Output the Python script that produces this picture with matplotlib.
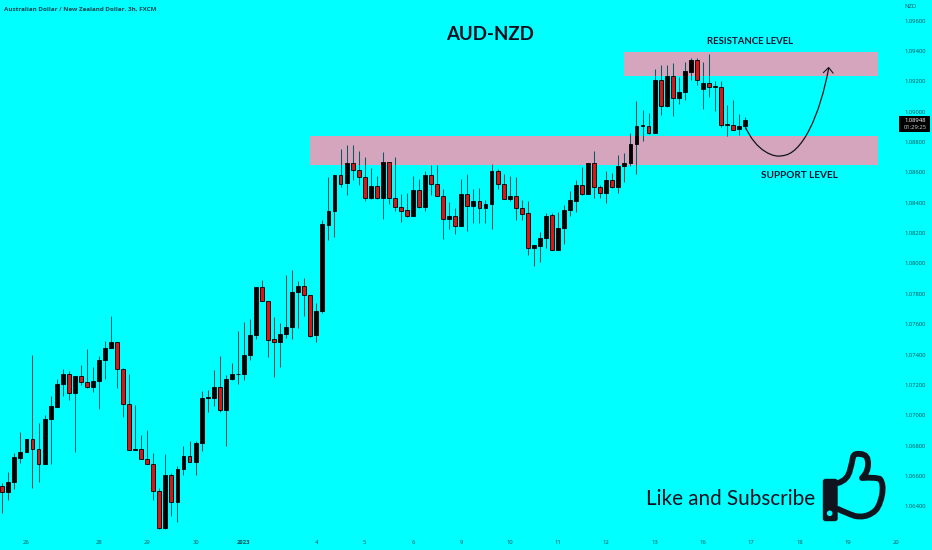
import matplotlib
matplotlib.use("Agg")
import matplotlib.pyplot as plt
import matplotlib.patches as patches
from matplotlib.path import Path
import numpy as np

plt.rcParams['font.family'] = ['Open Sans', 'DejaVu Sans']

# prix, une bougie 3h par colonne
opens = [1.06538, 1.06494, 1.06560, 1.06722, 1.06757, 1.06843, 1.06779, 1.06678, 1.06975, 1.07058,
         1.07205, 1.07275, 1.07146, 1.07260, 1.07220, 1.07190, 1.07227, 1.07365, 1.07444, 1.07482,
         1.07302, 1.07078, 1.06775, 1.06779, 1.06713, 1.06678, 1.06501, 1.06257, 1.06606, 1.06428,
         1.06645, 1.06735, 1.06696, 1.06821, 1.07113, 1.07117, 1.07187, 1.07034, 1.07238, 1.07271,
         1.07275, 1.07398, 1.07531, 1.07843, 1.07751, 1.07501, 1.07485, 1.07536, 1.07582, 1.07810,
         1.07852, 1.07790, 1.07527, 1.07685, 1.08256, 1.08346, 1.08583, 1.08528, 1.08662, 1.08616,
         1.08572, 1.08431, 1.08510, 1.08429, 1.08666, 1.08429, 1.08374, 1.08350, 1.08315, 1.08484,
         1.08374, 1.08583, 1.08521, 1.08444, 1.08293, 1.08311, 1.08245, 1.08460, 1.08376, 1.08409,
         1.08363, 1.08392, 1.08611, 1.08526, 1.08423, 1.08444, 1.08363, 1.08330, 1.08102, 1.08118,
         1.08170, 1.08317, 1.08091, 1.08234, 1.08350, 1.08411, 1.08515, 1.08460, 1.08662, 1.08506,
         1.08464, 1.08550, 1.08504, 1.08642, 1.08660, 1.08785, 1.08908, 1.08908, 1.08858, 1.09211,
         1.09038, 1.09233, 1.09088, 1.09130, 1.09264, 1.09343, 1.09152, 1.09187, 1.09165, 1.09163,
         1.08910, 1.08910, 1.08888, 1.08908]
closes = [1.06494, 1.06562, 1.06727, 1.06760, 1.06843, 1.06779, 1.06678, 1.06975, 1.07060, 1.07207,
          1.07275, 1.07146, 1.07260, 1.07220, 1.07190, 1.07227, 1.07367, 1.07444, 1.07482, 1.07302,
          1.07078, 1.06775, 1.06779, 1.06713, 1.06678, 1.06501, 1.06257, 1.06606, 1.06428, 1.06645,
          1.06735, 1.06696, 1.06821, 1.07115, 1.07119, 1.07187, 1.07034, 1.07238, 1.07271, 1.07275,
          1.07398, 1.07531, 1.07843, 1.07751, 1.07499, 1.07485, 1.07536, 1.07582, 1.07810, 1.07852,
          1.07790, 1.07525, 1.07685, 1.08258, 1.08346, 1.08585, 1.08526, 1.08662, 1.08616, 1.08572,
          1.08431, 1.08510, 1.08429, 1.08666, 1.08429, 1.08374, 1.08348, 1.08315, 1.08484, 1.08372,
          1.08585, 1.08521, 1.08442, 1.08293, 1.08311, 1.08245, 1.08460, 1.08376, 1.08409, 1.08363,
          1.08392, 1.08611, 1.08526, 1.08423, 1.08444, 1.08363, 1.08328, 1.08102, 1.08120, 1.08170,
          1.08315, 1.08091, 1.08234, 1.08352, 1.08416, 1.08515, 1.08460, 1.08662, 1.08506, 1.08464,
          1.08550, 1.08506, 1.08642, 1.08662, 1.08787, 1.08908, 1.08913, 1.08858, 1.09211, 1.09038,
          1.09233, 1.09088, 1.09130, 1.09266, 1.09343, 1.09211, 1.09187, 1.09165, 1.09167, 1.08913,
          1.08917, 1.08882, 1.08908, 1.08948]
highs = [1.06553, 1.06626, 1.06755, 1.06893, 1.06843, 1.07400, 1.06948, 1.07003, 1.07128, 1.07238,
         1.07304, 1.07295, 1.07260, 1.07330, 1.07436, 1.07317, 1.07389, 1.07490, 1.07655, 1.07482,
         1.07310, 1.07273, 1.07069, 1.06871, 1.06904, 1.06749, 1.06520, 1.06746, 1.06623, 1.06667,
         1.06795, 1.06832, 1.06834, 1.07163, 1.07168, 1.07299, 1.07392, 1.07269, 1.07348, 1.07554,
         1.07615, 1.07635, 1.07843, 1.07891, 1.07751, 1.07650, 1.07606, 1.07924, 1.07957, 1.07887,
         1.07902, 1.07790, 1.07738, 1.08286, 1.08567, 1.08585, 1.08754, 1.08782, 1.08782, 1.08743,
         1.08699, 1.08629, 1.08576, 1.08734, 1.08671, 1.08699, 1.08458, 1.08466, 1.08576, 1.08559,
         1.08611, 1.08649, 1.08649, 1.08488, 1.08405, 1.08363, 1.08556, 1.08589, 1.08488, 1.08497,
         1.08418, 1.08655, 1.08620, 1.08589, 1.08576, 1.08572, 1.08418, 1.08414, 1.08120, 1.08210,
         1.08330, 1.08330, 1.08339, 1.08385, 1.08475, 1.08550, 1.08638, 1.08662, 1.08743, 1.08517,
         1.08611, 1.08594, 1.08714, 1.08725, 1.08861, 1.09071, 1.09011, 1.08994, 1.09279, 1.09305,
         1.09305, 1.09323, 1.09231, 1.09330, 1.09356, 1.09351, 1.09327, 1.09378, 1.09200, 1.09204,
         1.09044, 1.09077, 1.08983, 1.08963]
lows = [1.06356, 1.06443, 1.06514, 1.06689, 1.06757, 1.06525, 1.06564, 1.06678, 1.06683, 1.07058,
        1.07130, 1.07098, 1.06762, 1.07198, 1.07181, 1.07152, 1.07043, 1.07242, 1.07444, 1.07177,
        1.06986, 1.06775, 1.06775, 1.06713, 1.06678, 1.06443, 1.06250, 1.06250, 1.06340, 1.06301,
        1.06606, 1.06696, 1.06608, 1.06768, 1.07019, 1.07060, 1.07019, 1.06797, 1.07234, 1.07205,
        1.07233, 1.07365, 1.07500, 1.07751, 1.07387, 1.07253, 1.07321, 1.07507, 1.07501, 1.07575,
        1.07654, 1.07518, 1.07481, 1.07672, 1.08155, 1.08177, 1.08502, 1.08453, 1.08550, 1.08517,
        1.08414, 1.08425, 1.08423, 1.08291, 1.08392, 1.08348, 1.08271, 1.08308, 1.08315, 1.08365,
        1.08346, 1.08451, 1.08442, 1.08159, 1.08229, 1.08194, 1.08245, 1.08216, 1.08264, 1.08264,
        1.08264, 1.08227, 1.08488, 1.08423, 1.08412, 1.08286, 1.08286, 1.08056, 1.07984, 1.08012,
        1.08100, 1.08091, 1.08091, 1.08128, 1.08313, 1.08341, 1.08451, 1.08460, 1.08433, 1.08429,
        1.08401, 1.08495, 1.08462, 1.08539, 1.08642, 1.08590, 1.08809, 1.08853, 1.08858, 1.08981,
        1.09029, 1.08972, 1.09051, 1.09077, 1.09209, 1.09176, 1.09016, 1.09095, 1.09007, 1.08897,
        1.08840, 1.08880, 1.08847, 1.08888]

price_ticks = [1.096, 1.094, 1.092, 1.090, 1.088, 1.086, 1.084, 1.082, 1.080, 1.078, 1.076,
               1.074, 1.072, 1.070, 1.068, 1.066, 1.064]
date_bars = [4, 16, 24, 32, 40, 52, 60, 68, 76, 84, 92, 100, 108, 116, 124, 132, 140, 148]
date_labels = ['26', '28', '29', '30', '2023', '4', '5', '6', '9', '10', '11', '12', '13',
               '16', '17', '18', '19', '20']

support_zone = (1.08649, 1.08840, 50.9)
resistance_zone = (1.09237, 1.09393, 102.9)
zone_end = 145.0
last_price = '1.08948'
countdown = '01:29:25'

BG = '#00FFFF'
ZONE = '#D4A5BC'
RED = '#DC1414'
TXT = '#07525A'

W, H = 932, 550
fig = plt.figure(figsize=(W / 100, H / 100), dpi=100, facecolor=BG)
ax = fig.add_axes([0, (H - 532) / H, 902 / W, 532 / H], facecolor=BG)

x = np.arange(len(opens))
o, c, hi, lo = map(np.array, (opens, closes, highs, lows))
up = c >= o
colors = np.where(up, '#000000', RED)

for low_p, high_p, start in (support_zone, resistance_zone):
    ax.add_patch(patches.Rectangle((start, low_p), zone_end - start, high_p - low_p,
                                   facecolor=ZONE, edgecolor='none', zorder=1))

ax.vlines(x, lo, hi, color='#0A5A62', lw=0.75, zorder=2)
ax.bar(x, np.maximum(np.abs(c - o), 0.00003), bottom=np.minimum(o, c), width=0.64,
       color=colors, edgecolor='black', linewidth=0.6, zorder=3)

ax.set_xlim(-0.38, 148.96)
ax.set_ylim(1.06232, 1.09735)
ax.set_xticks(date_bars)
ax.set_xticklabels(date_labels)
ax.set_yticks(price_ticks)
ax.set_yticklabels(['%.5f' % p for p in price_ticks])
ax.yaxis.tick_right()
ax.tick_params(axis='both', length=0, labelsize=4.2, labelcolor=TXT)
ax.tick_params(axis='x', pad=6)
ax.tick_params(axis='y', pad=2)
for t, lab in zip(ax.get_xticklabels(), date_labels):
    if lab == '2023':
        t.set_fontweight('bold')
for s in ax.spines.values():
    s.set_visible(False)

# calque en pixels pour les annotations dessinées à la main
ov = fig.add_axes([0, 0, 1, 1], facecolor='none')
ov.set_xlim(0, W)
ov.set_ylim(H, 0)
ov.axis('off')

ov.text(4, 9, 'Australian Dollar / New Zealand Dollar, 3h, FXCM', fontsize=4.5, color='#064650',
        fontweight='bold', va='center')
ov.text(904, 7, 'NZD', fontsize=4.2, color=TXT, va='center')
ov.text(490, 34, 'AUD-NZD', fontsize=13.4, fontweight='bold', family='Lato', color='#0B1020',
        ha='center', va='center')
ov.text(750, 42, 'RESISTANCE LEVEL', fontsize=6.9, fontweight='bold', family='Lato', color='#0B1530',
        ha='center', va='center')
ov.text(799, 175, 'SUPPORT LEVEL', fontsize=7.2, fontweight='bold', family='Lato', color='#0B1530',
        ha='center', va='center')
ov.text(731, 499, 'Like and Subscribe', fontsize=14.9, family='Lato', color='#0B1020',
        ha='center', va='center')

# étiquette du dernier prix
ov.add_patch(patches.Rectangle((899, 115.5), 31, 16.5, facecolor='black', edgecolor='none'))
ov.text(904, 120, last_price, color='white', fontsize=4.2, va='center')
ov.text(904, 127.5, countdown, color='#C8D8D8', fontsize=4.2, va='center')

# flèche de projection
curve = Path([(745, 126), (756, 152), (775, 158), (782, 155.7), (802, 155), (820, 115), (828.7, 68)],
             [Path.MOVETO, Path.CURVE4, Path.CURVE4, Path.CURVE4, Path.CURVE4, Path.CURVE4, Path.CURVE4])
ov.add_patch(patches.PathPatch(curve, fill=False, edgecolor='#10141C', lw=0.9))
ov.plot([823.5, 828.7, 833], [72.5, 67.5, 73], color='#10141C', lw=0.8)

# pouce
INK = '#10141F'
ov.add_patch(patches.FancyBboxPatch((823.5, 479.5), 13.5, 41, boxstyle='round,pad=0,rounding_size=2',
                                    facecolor=INK, edgecolor=INK, lw=1))
ov.add_patch(patches.Circle((829.7, 513.3), 2.8, facecolor=BG, edgecolor='none', zorder=5))
hand = [(838, 483), (848, 480), (850, 470), (852, 463), (853, 457), (854, 453), (860, 454),
        (869, 454), (868, 465), (868, 472), (862, 478), (875, 477), (880, 479), (884, 484),
        (882, 495), (879, 510), (872, 513), (865, 518), (855, 516), (846, 513), (838, 509)]
codes = [Path.MOVETO] + [Path.CURVE3] * (len(hand) - 1)
ov.add_patch(patches.PathPatch(Path(hand, codes), fill=False, edgecolor=INK, lw=4.2,
                               joinstyle='round', capstyle='round'))

fig.savefig('out.png', dpi=100, facecolor=BG)
